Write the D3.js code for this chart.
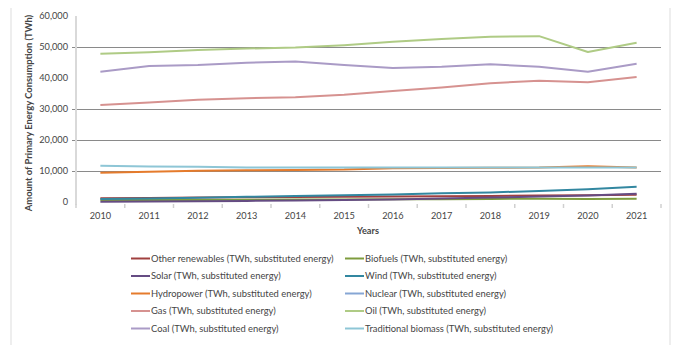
<!DOCTYPE html>
<html>
<head>
<meta charset="utf-8">
<script src="https://cdn.jsdelivr.net/npm/d3@7"></script>
<style>
  html, body { margin: 0; padding: 0; background: #fff; }
  svg { display: block; font-family: Lato, "Open Sans", sans-serif; }
</style>
</head>
<body>
<svg id="chart" width="675" height="345"></svg>
<script>
// Primary energy consumption by source, TWh (substituted energy)
const years = ["2010","2011","2012","2013","2014","2015","2016","2017","2018","2019","2020","2021"];

const otherRenewables = [1250, 1330, 1420, 1510, 1600, 1680, 1760, 1850, 1960, 2060, 2200, 2350];
const biofuels        = [620, 640, 660, 720, 780, 820, 850, 900, 980, 1060, 1000, 1060];
const solar           = [85, 169, 259, 355, 489, 644, 833, 1137, 1452, 1751, 2128, 2700];
const wind            = [950, 1163, 1395, 1661, 1900, 2145, 2432, 2802, 3100, 3550, 4150, 4900];
const hydropower      = [9450, 9750, 10100, 10250, 10350, 10450, 10900, 11000, 11050, 11100, 11550, 11100];
const nuclear         = [null, null, null, null, null, null, null, null, null, null, null, null];
const gas             = [31300, 32100, 33000, 33500, 33800, 34600, 35800, 36900, 38300, 39100, 38600, 40300];
const oil             = [47800, 48300, 49000, 49500, 49800, 50600, 51700, 52600, 53300, 53500, 48400, 51400];
const coal            = [42000, 43900, 44200, 44900, 45300, 44200, 43200, 43600, 44400, 43600, 42000, 44600];
const tradBiomass     = [11700, 11450, 11400, 11150, 11111, 11111, 11111, 11111, 11111, 11111, 11111, 11111];

const yTicks = [0, 10000, 20000, 30000, 40000, 50000, 60000];
const gridValues = [10000, 20000, 30000, 50000];

const seriesNames = [
  "Other renewables (TWh, substituted energy)",
  "Biofuels (TWh, substituted energy)",
  "Solar (TWh, substituted energy)",
  "Wind (TWh, substituted energy)",
  "Hydropower (TWh, substituted energy)",
  "Nuclear (TWh, substituted energy)",
  "Gas (TWh, substituted energy)",
  "Oil (TWh, substituted energy)",
  "Coal (TWh, substituted energy)",
  "Traditional biomass (TWh, substituted energy)"
];
const seriesColors = ["#A0403F", "#7E9C3E", "#654C83", "#3287A0", "#E57B2C",
                      "#86A6D4", "#D69290", "#AFCB85", "#AA9BC6", "#8EC6D6"];
const seriesValues = [otherRenewables, biofuels, solar, wind, hydropower,
                      nuclear, gas, oil, coal, tradBiomass];

const series = seriesNames.map((name, i) => ({
  name, color: seriesColors[i],
  values: years.map((y, j) => ({ year: y, value: seriesValues[i][j] }))
}));

const svg = d3.select("#chart");
const plot = { left: 76, right: 661, top: 16, bottom: 202 };
const textColor = "#454545";

const x = d3.scaleBand().domain(years).range([plot.left, plot.right]).padding(0);
const y = d3.scaleLinear().domain([0, 60000]).range([plot.bottom, plot.top]);

// outer frame sides
svg.append("g").attr("stroke", "#E3E3E3").attr("stroke-width", 1.2)
  .selectAll("line").data([11, 670]).join("line")
  .attr("x1", d => d).attr("x2", d => d).attr("y1", 8).attr("y2", 345);

// horizontal gridlines
svg.append("g").attr("stroke", "#8A8A8A").attr("stroke-width", 1)
  .selectAll("line").data(gridValues).join("line")
  .attr("x1", plot.left - 4).attr("x2", plot.right)
  .attr("y1", d => Math.round(y(d)) + 0.5).attr("y2", d => Math.round(y(d)) + 0.5);

// y axis
const yAxis = svg.append("g").attr("transform", `translate(${plot.left},0)`)
  .call(d3.axisLeft(y).tickValues(yTicks).tickSize(0).tickPadding(8)
    .tickFormat(d3.format(",")));
yAxis.select(".domain").attr("stroke", "#D9D9D9").attr("stroke-width", 2)
  .attr("d", `M0,${plot.top}V${plot.bottom + 3}`);
yAxis.selectAll("text").attr("font-size", 9.2).attr("fill", textColor)
  .attr("font-family", "Lato, sans-serif");

// x axis
const xAxis = svg.append("g").attr("transform", `translate(0,${plot.bottom})`)
  .call(d3.axisBottom(x).tickSize(0).tickPadding(10));
xAxis.select(".domain").remove();
xAxis.selectAll("text").attr("font-size", 9.2).attr("fill", textColor)
  .attr("font-family", "Lato, sans-serif");
// category boundary tick marks
const bounds = years.map(yv => x(yv)).concat([plot.right]);
svg.append("g").attr("stroke", "#D0D0D0").attr("stroke-width", 1.5)
  .selectAll("line").data(bounds).join("line")
  .attr("x1", d => d).attr("x2", d => d)
  .attr("y1", plot.bottom + 2).attr("y2", plot.bottom + 6);

// axis titles
svg.append("text").attr("x", 368).attr("y", 234).attr("text-anchor", "middle")
  .attr("font-size", 9.2).attr("font-weight", "bold").attr("fill", textColor)
  .text("Years");
svg.append("text").attr("transform", "translate(32,113) rotate(-90)")
  .attr("text-anchor", "middle").attr("font-size", 9.4).attr("font-weight", "bold")
  .attr("fill", textColor)
  .text("Amount of Primary Energy Consumption (TWh)");

// series lines
const line = d3.line()
  .defined(d => d.value != null)
  .x(d => x(d.year) + x.bandwidth() / 2)
  .y(d => y(d.value));
svg.append("g").selectAll("path").data(series).join("path")
  .attr("fill", "none")
  .attr("stroke", d => d.color)
  .attr("stroke-width", 2)
  .attr("stroke-linejoin", "round")
  .attr("d", d => line(d.values));

// legend, two columns
const legendCols = [131, 345];
const legendRows = [258.5, 276, 293.5, 311, 328.5];
const legend = svg.append("g").selectAll("g").data(series).join("g")
  .attr("transform", (d, i) => `translate(${legendCols[i % 2]},${legendRows[Math.floor(i / 2)]})`);
legend.append("line").attr("x1", 0).attr("x2", 19).attr("y1", 0).attr("y2", 0)
  .attr("stroke", d => d.color).attr("stroke-width", 2);
legend.append("text").attr("x", 20).attr("y", 0).attr("dy", "0.35em")
  .attr("font-size", 9.4).attr("fill", textColor)
  .text(d => d.name);
</script>
</body>
</html>
